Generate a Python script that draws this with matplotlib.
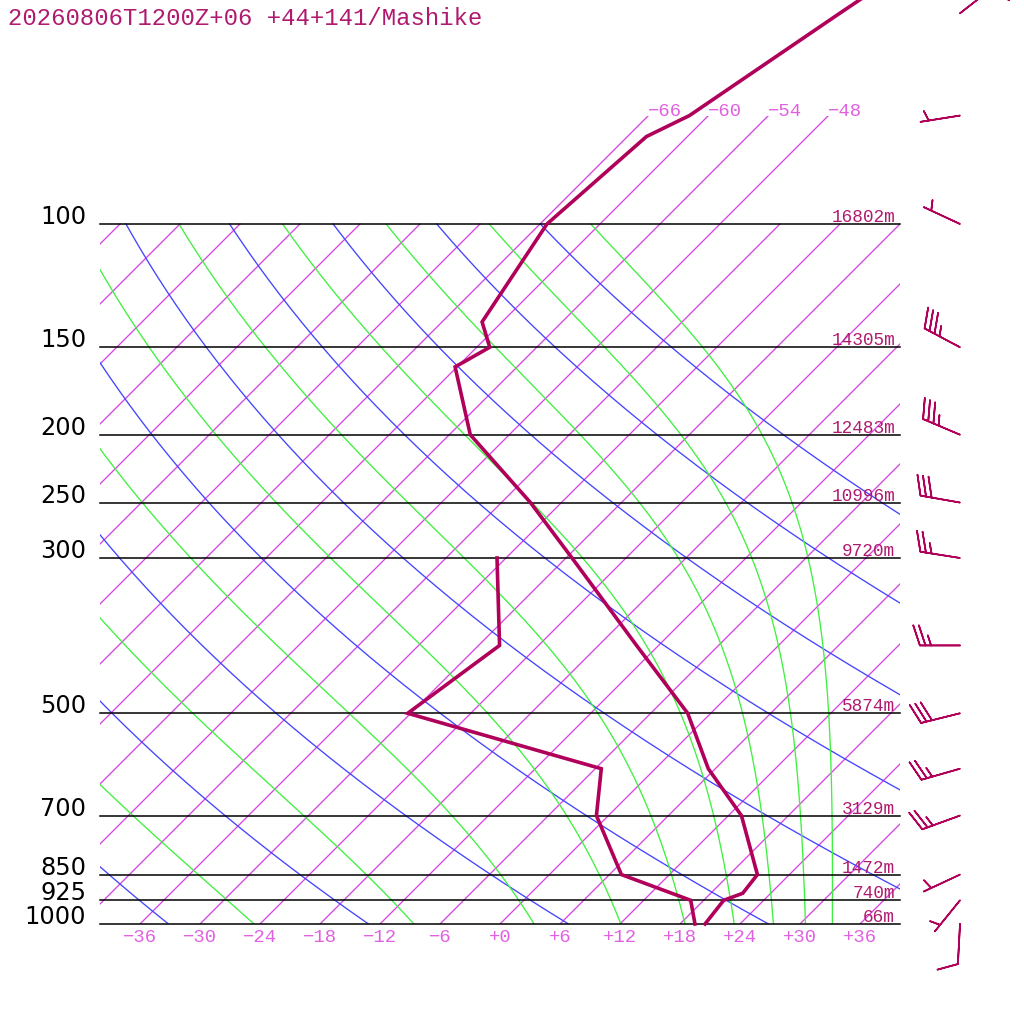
import numpy as np
import matplotlib
matplotlib.use("Agg")
import matplotlib.pyplot as plt
from matplotlib.transforms import Bbox, TransformedBbox

title = "20260806T1200Z+06 +44+141/Mashike"

# temperature profile (hPa, degC)
p_temp = [1000, 925, 904, 850, 700, 600, 500, 400, 300, 250, 200, 160, 150, 138, 100, 75, 70, 50, 30]
temp = [20.5, 20.0, 21.2, 20.8, 13.3, 5.3, -2.3, -14.2, -29.4, -39.1, -51.9, -60.2, -58.7, -62.0,
        -65.3, -64.1, -61.9, -57.1, -49.5]

# dew point profile
p_dew = [1000, 925, 850, 700, 600, 500, 400, 300]
dew = [19.5, 16.7, 7.2, -1.2, -5.4, -30.3, -27.9, -36.9]

# winds (direction deg, speed kt)
p_wind = [1000, 925, 850, 700, 600, 500, 400, 300, 250, 200, 150, 100, 70, 50]
wdir = [183, 219, 245, 250, 254, 256, 270, 279, 280, 293, 298, 295, 261, 52]
wspd = [10, 5, 5, 25, 25, 30, 25, 25, 30, 35, 35, 5, 5, 10]

# isobars with geopotential heights
p_levels = [1000, 925, 850, 700, 500, 300, 250, 200, 150, 100]
heights = ["66m", "740m", "1472m", "3129m", "5874m", "9720m", "10996m", "12483m", "14305m", "16802m"]

isotherms = list(range(-108, 37, 6))
isotherms_top = [-66, -60, -54, -48]
x_ticks = list(range(-36, 37, 6))
dry_thetas = list(range(240, 401, 20))
moist_thetas = list(range(250, 411, 20))

c_prof = "#b0005a"
c_text = "#b01a6e"
c_iso = "#d845e0"
c_tick = "#e060e0"
c_dry = "#4444ff"
c_moist = "#40f040"


def skew(t, p):
    return np.asarray(t, float) + 70 * np.log10(1000.0 / np.asarray(p, float))


def theta_e(tk, p):
    tc = tk - 273.15
    es = 6.112 * np.exp(17.67 * tc / (tc + 243.5))
    es = np.minimum(es, 0.8 * p)
    r = 622 * es / (p - es)
    return tk * (1000 / p) ** (0.2854 * (1 - 0.00028 * r)) * np.exp((3.376 / tk - 0.00254) * r * (1 + 0.00081 * r))


def moist_t(the, p):
    lo = np.full_like(p, 150.0)
    hi = np.full_like(p, 330.0)
    for _ in range(60):
        mid = 0.5 * (lo + hi)
        up = theta_e(mid, p) > the
        hi = np.where(up, mid, hi)
        lo = np.where(up, lo, mid)
    return 0.5 * (lo + hi) - 273.15


fig = plt.figure(figsize=(10.24, 10.24), dpi=100)
ax = fig.add_axes([0, 0, 1, 1])
ax.set_yscale("log")
ax.set_xlim(-50, 52.4)
ax.set_ylim(1000 * 10 ** (100 / 700), 1000 / 10 ** (924 / 700))
ax.axis("off")

clip = TransformedBbox(Bbox([[-40, 1000], [40, 70]]), ax.transData)

pp = np.logspace(3, 2, 300)
pp_top = np.logspace(3, np.log10(70), 320)

for t in isotherms:
    ps = pp_top if t in isotherms_top else pp
    ln, = ax.plot(skew(np.full_like(ps, t), ps), ps, color=c_iso, lw=0.95)
    ln.set_clip_box(clip)

for th in dry_thetas:
    ts = th * (pp / 1000) ** 0.2857 - 273.15
    ln, = ax.plot(skew(ts, pp), pp, color=c_dry, lw=0.95)
    ln.set_clip_box(clip)
    ann = ax.annotate(str(th), xy=(skew(ts[-1], 100), 100), xytext=(-2, 5), textcoords="offset pixels",
                      ha="left", va="baseline", color=c_dry, fontsize=11.8, family="Liberation Mono")
    ann.set_clip_box(clip)
    ann.set_clip_on(True)

for th in moist_thetas:
    ts = moist_t(th, pp)
    ln, = ax.plot(skew(ts, pp), pp, color=c_moist, lw=0.95)
    ln.set_clip_box(clip)
    ann = ax.annotate(str(th), xy=(skew(ts[-1], 100), 100), xytext=(-2, 5), textcoords="offset pixels",
                      ha="left", va="baseline", color=c_moist, fontsize=11.8, family="Liberation Mono")
    ann.set_clip_box(clip)
    ann.set_clip_on(True)

for p, h in zip(p_levels, heights):
    ax.plot([-40, 40], [p, p], color="black", lw=1.1)
    ax.annotate(h, xy=(39.5, p), xytext=(0, 2), textcoords="offset pixels", ha="right", va="baseline",
                color=c_text, fontsize=12.8, family="Liberation Mono")
    ax.annotate(str(p), xy=(-41.4, p), ha="right", va="baseline", color="black", fontsize=17.3,
                family="DejaVu Sans")

for t in x_ticks:
    lab = ("+" if t >= 0 else "\u2212") + str(abs(t))
    ax.annotate(lab, xy=(t, 1000), xytext=(0, -18), textcoords="offset pixels", ha="center",
                va="baseline", color=c_tick, fontsize=13.6, family="Liberation Mono")

for t in isotherms_top:
    ax.annotate("\u2212" + str(abs(t)), xy=(skew(t, 70), 70), xytext=(-1, 0), textcoords="offset pixels",
                ha="left", va="baseline", color=c_tick, fontsize=13.6, family="Liberation Mono")

ax.plot(skew(dew, p_dew), p_dew, color=c_prof, lw=2.6, solid_joinstyle="miter")
ax.plot(skew(temp, p_temp), p_temp, color=c_prof, lw=2.6, solid_joinstyle="miter")

wd = np.radians(wdir)
u = -np.array(wspd) * np.sin(wd)
v = -np.array(wspd) * np.cos(wd)
ax.barbs(np.full(len(p_wind), 46.0), p_wind, u, v, length=7.6, color=c_prof, linewidth=1.2,
         sizes=dict(spacing=0.14, height=0.5, width=0.33))

fig.text(8 / 1024, 1 - 25 / 1024, title, ha="left", va="baseline", color=c_text, fontsize=17.2,
         family="Liberation Mono")

fig.savefig("out.png", dpi=100)
